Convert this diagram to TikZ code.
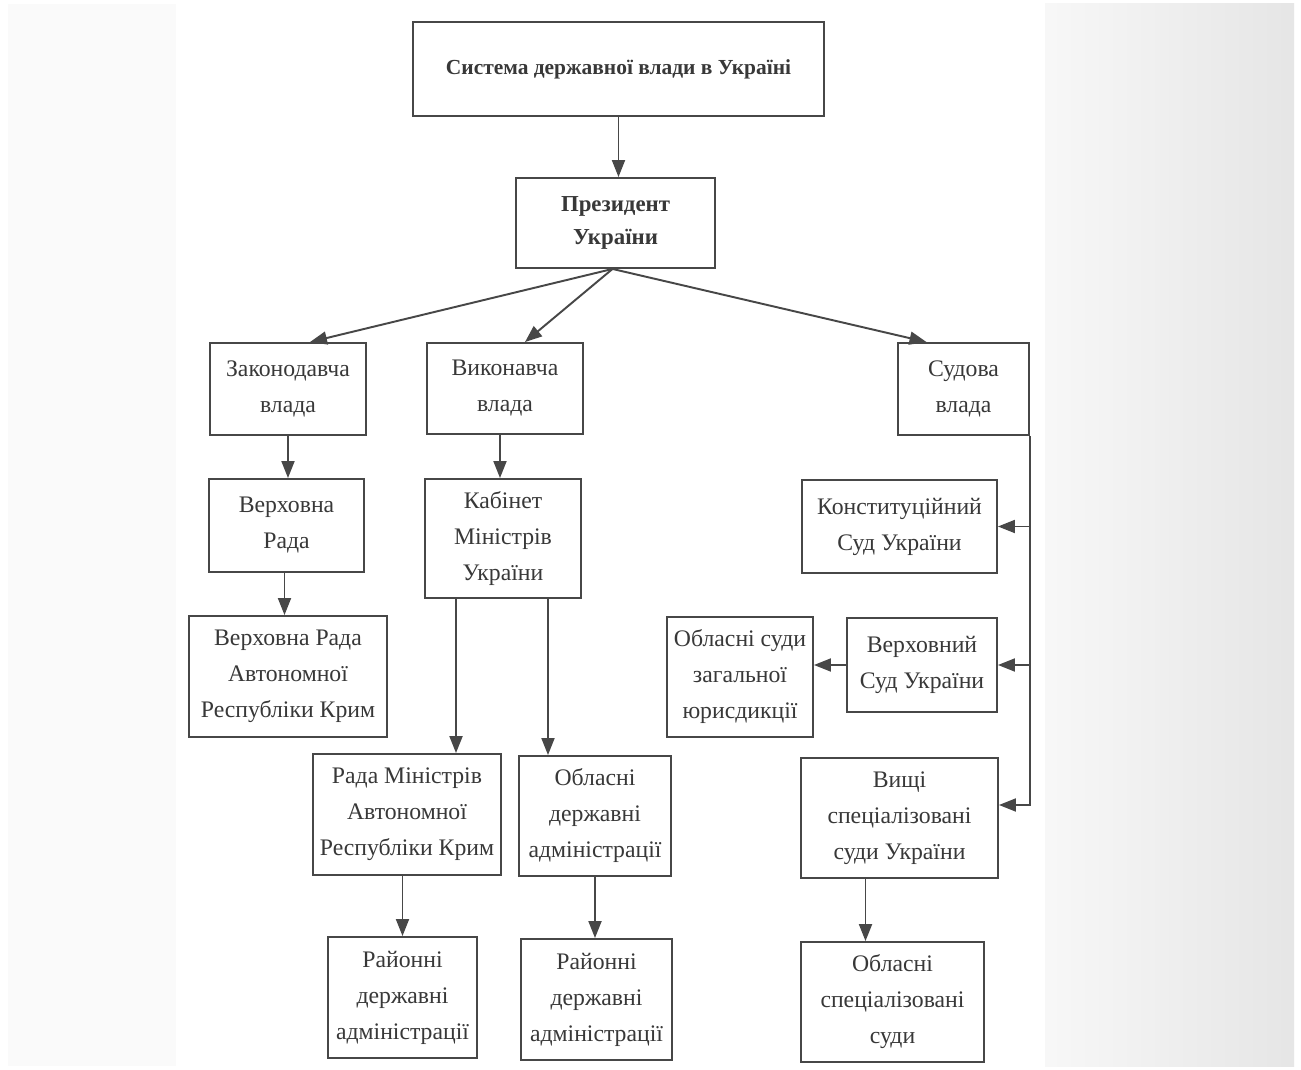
\documentclass[tikz,border=0pt]{standalone}
\usepackage{fontspec}
\setmainfont{Liberation Serif}
\usetikzlibrary{arrows.meta,calc}
\definecolor{linec}{HTML}{474747}
\definecolor{textc}{HTML}{383838}
\newcommand\fsnorm{\fontsize{13.5}{20.5}\selectfont}
\newcommand\fsbold{\fontsize{12.2}{19}\selectfont\bfseries}
\newcommand\fspres{\fontsize{13}{19}\selectfont\bfseries}
\tikzset{
  box/.style={draw=linec, line width=1.1pt, fill=white, inner sep=0pt, align=center, font=\fsnorm, text=textc},
  conn/.style={draw=linec, line width=1.1pt},
  arr/.style={conn, -{Triangle[length=0.34cm,width=0.26cm]}},
}
\begin{document}
\begin{tikzpicture}[x=0.02cm,y=-0.02cm]
\useasboundingbox (0,0) rectangle (1301,1070);
\fill[white] (0,0) rectangle (1301,1070);
\fill[black!2] (8,4) rectangle (176,1066);
\shade[left color=black!3, right color=black!10] (1045,4) rectangle (1294,1066);

\node[box,minimum width=8.22cm,minimum height=1.88cm,font=\fsbold] (top) at (618.5,69) {Система державної влади в Україні};
\node[box,minimum width=3.98cm,minimum height=1.8cm,font=\fspres] (pres) at (615.5,223) {Президент\\України};
\node[box,minimum width=3.12cm,minimum height=1.84cm] (zak) at (288,389) {Законодавча\\влада};
\node[box,minimum width=3.12cm,minimum height=1.82cm] (vyk) at (505,388.5) {Виконавча\\влада};
\node[box,minimum width=2.62cm,minimum height=1.84cm] (sud) at (963.5,389) {Судова\\влада};
\node[box,minimum width=3.1cm,minimum height=1.86cm] (vr) at (286.5,525.5) {Верховна\\Рада};
\node[box,minimum width=3.12cm,minimum height=2.38cm] (kab) at (503,538.5) {Кабінет\\Міністрів\\України};
\node[box,minimum width=3.96cm,minimum height=2.42cm] (vrark) at (288,676.5) {Верховна Рада\\Автономної\\Республіки Крим};
\node[box,minimum width=3.9cm,minimum height=1.86cm] (kon) at (899.5,526.5) {Конституційний\\Суд України};
\node[box,minimum width=2.92cm,minimum height=2.4cm] (obls) at (740,677) {Обласні суди\\загальної\\юрисдикції};
\node[box,minimum width=3cm,minimum height=1.88cm] (verkh) at (922,665) {Верховний\\Суд України};
\node[box,minimum width=3.76cm,minimum height=2.42cm] (rm) at (407,814.5) {Рада Міністрів\\Автономної\\Республіки Крим};
\node[box,minimum width=3.04cm,minimum height=2.4cm] (obl) at (595,816) {Обласні\\державні\\адміністрації};
\node[box,minimum width=3.94cm,minimum height=2.4cm] (vysh) at (899.5,818) {Вищі\\спеціалізовані\\суди України};
\node[box,minimum width=2.98cm,minimum height=2.42cm] (ray1) at (402.5,997.5) {Районні\\державні\\адміністрації};
\node[box,minimum width=3.02cm,minimum height=2.42cm] (ray2) at (596.5,999.5) {Районні\\державні\\адміністрації};
\node[box,minimum width=3.66cm,minimum height=2.4cm] (oblspec) at (892.5,1002) {Обласні\\спеціалізовані\\суди};

% top to president
\draw[arr] (top.south) -- (top.south |- pres.north);
% president to branches
\draw[arr] ([xshift=-0.06cm]pres.south) -- ([xshift=0.44cm]zak.north);
\draw[arr] ([xshift=-0.06cm]pres.south) -- ([xshift=0.4cm]vyk.north);
\draw[arr] ([xshift=-0.06cm]pres.south) -- ([xshift=-0.74cm]sud.north);
% legislative
\draw[arr] (zak.south) -- (zak.south |- vr.north);
\draw[arr] ([xshift=-0.04cm]vr.south) coordinate (v1) -- (v1 |- vrark.north);
% executive
\draw[arr] ([xshift=-0.1cm]vyk.south) coordinate (e1) -- (e1 |- kab.north);
\path ([xshift=-0.94cm]kab.south) coordinate (k1);
\path ([xshift=0.9cm]kab.south) coordinate (k2);
\draw[arr] (k1) -- (k1 |- rm.north);
\draw[arr] (k2) -- (k2 |- obl.north);
\draw[arr] (ray1.north |- rm.south) -- (ray1.north);
\draw[arr] (obl.south) -- (obl.south |- ray2.north);
% judicial
\draw[arr] (sud.south east) |- ([yshift=0.26cm]vysh.east);
\draw[arr] (sud.south east |- kon.east) -- (kon.east);
\draw[arr] (sud.south east |- verkh.east) -- (verkh.east);
\draw[arr] (verkh.west) -- (obls.east |- verkh.west);
\path ([xshift=-0.68cm]vysh.south) coordinate (j1);
\draw[arr] (j1) -- (j1 |- oblspec.north);
\end{tikzpicture}
\end{document}
